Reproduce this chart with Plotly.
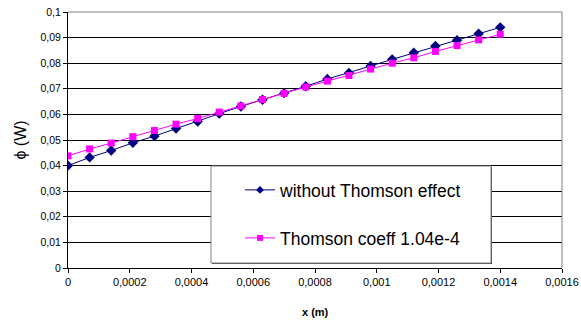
import plotly.graph_objects as go

# ---- data ----
x_m = [0, 0.00007, 0.00014, 0.00021, 0.00028, 0.00035, 0.00042, 0.00049, 0.00056, 0.00063,
       0.0007, 0.00077, 0.00084, 0.00091, 0.00098, 0.00105, 0.00112, 0.00119, 0.00126, 0.00133, 0.0014]
phi_without = [0.0400, 0.0432, 0.0459, 0.0489, 0.0515, 0.0545, 0.0572, 0.0603, 0.0631, 0.0657,
               0.0683, 0.0710, 0.0738, 0.0762, 0.0789, 0.0815, 0.0841, 0.0867, 0.0890, 0.0915, 0.0940]
phi_thomson = [0.0438, 0.0465, 0.0488, 0.0513, 0.0537, 0.0562, 0.0584, 0.0609, 0.0633, 0.0658,
               0.0682, 0.0707, 0.0730, 0.0752, 0.0777, 0.0800, 0.0821, 0.0846, 0.0869, 0.0891, 0.0913]
series_names = ["without Thomson effect", "Thomson coeff 1.04e-4"]

y_tickvals = [0, 0.01, 0.02, 0.03, 0.04, 0.05, 0.06, 0.07, 0.08, 0.09, 0.1]
y_ticktext = ["0", "0,01", "0,02", "0,03", "0,04", "0,05", "0,06", "0,07", "0,08", "0,09", "0,1"]
x_tickvals = [0, 0.0002, 0.0004, 0.0006, 0.0008, 0.001, 0.0012, 0.0014, 0.0016]
x_ticktext = ["0", "0,0002", "0,0004", "0,0006", "0,0008", "0,001", "0,0012", "0,0014", "0,0016"]
x_title = "<b>x (m)</b>"
y_title = "ϕ (W)"

FONT = "Liberation Sans, Arial, sans-serif"
BLUE = "#000080"
MAGENTA = "#FF00FF"

fig = go.Figure()
fig.add_trace(go.Scatter(
    x=x_m, y=phi_without, mode="lines+markers", name=series_names[0],
    line=dict(color=BLUE, width=1),
    marker=dict(symbol="diamond", size=8, color=BLUE),
    showlegend=False))
fig.add_trace(go.Scatter(
    x=x_m, y=phi_thomson, mode="lines+markers", name=series_names[1],
    line=dict(color=MAGENTA, width=1),
    marker=dict(symbol="square", size=7, color=MAGENTA),
    showlegend=False))
# legend entries (smaller symbols, as in the reference legend)
fig.add_trace(go.Scatter(
    x=[None], y=[None], mode="lines+markers", name=series_names[0],
    line=dict(color=BLUE, width=1),
    marker=dict(symbol="diamond", size=6, color=BLUE),
    legend="legend"))
fig.add_trace(go.Scatter(
    x=[None], y=[None], mode="lines+markers", name=series_names[1],
    line=dict(color=MAGENTA, width=1),
    marker=dict(symbol="square", size=6, color=MAGENTA),
    legend="legend2"))

L, R, T, B = 68, 19, 12, 55
W, H = 581, 323
pw = W - L - R
ph = H - T - B

def px_x(p):
    return (p - L) / pw

def px_y(p):
    return (H - B - p) / ph

fig.update_layout(
    width=W, height=H,
    margin=dict(l=L, r=R, t=T, b=B, autoexpand=False),
    paper_bgcolor="white", plot_bgcolor="white",
    font=dict(family=FONT, color="black", size=11),
    xaxis=dict(
        range=[0, 0.0016], tickvals=x_tickvals, ticktext=x_ticktext,
        showgrid=False, zeroline=False,
        showline=True, linecolor="black", linewidth=1,
        ticks="outside", ticklen=4, tickcolor="black",
        tickfont=dict(size=11), automargin=False,
        fixedrange=True),
    yaxis=dict(
        range=[0, 0.1], tickvals=y_tickvals, ticktext=y_ticktext,
        showgrid=True, gridcolor="black", gridwidth=1, zeroline=False,
        showline=True, linecolor="black", linewidth=1,
        ticks="outside", ticklen=4, tickcolor="black",
        tickfont=dict(size=10.5), automargin=False,
        title=dict(text=y_title, font=dict(size=16), standoff=9),
        fixedrange=True),
    legend=dict(x=px_x(240), y=px_y(190), xanchor="left", yanchor="middle",
                bgcolor="rgba(0,0,0,0)", borderwidth=0,
                font=dict(size=17.5, family=FONT)),
    legend2=dict(x=px_x(240), y=px_y(238), xanchor="left", yanchor="middle",
                 bgcolor="rgba(0,0,0,0)", borderwidth=0,
                 font=dict(size=17.5, family=FONT)),
    showlegend=True,
)

# x axis title
fig.add_annotation(text=x_title, xref="paper", yref="paper",
                   x=0.5, y=px_y(312), xanchor="center", yanchor="middle",
                   showarrow=False, font=dict(size=11, family=FONT, color="black"))

# plot-area border (top and right, gray)
fig.add_shape(type="line", xref="paper", yref="paper", x0=0, x1=1, y0=1, y1=1,
              line=dict(color="#808080", width=1), layer="above")
fig.add_shape(type="line", xref="paper", yref="paper", x0=1, x1=1, y0=0, y1=1,
              line=dict(color="#808080", width=1), layer="above")
# legend box
fig.add_shape(type="rect", xref="paper", yref="paper",
              x0=px_x(212), x1=px_x(492), y0=px_y(264), y1=px_y(167),
              fillcolor="#404040", line=dict(width=0), layer="above")
fig.add_shape(type="rect", xref="paper", yref="paper",
              x0=px_x(211), x1=px_x(491), y0=px_y(263), y1=px_y(166),
              fillcolor="white", line=dict(color="#808080", width=1), layer="above")

fig.write_html("out.html")
